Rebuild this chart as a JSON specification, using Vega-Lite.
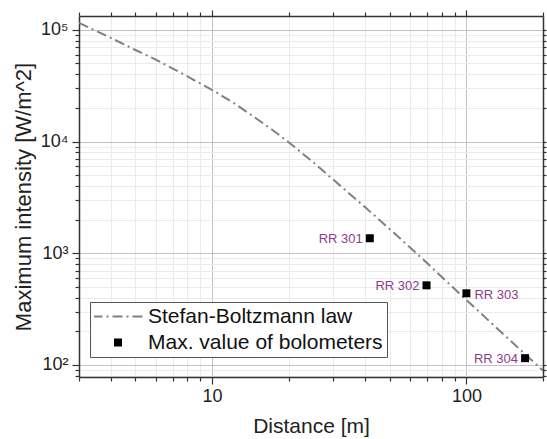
{
  "$schema": "https://vega.github.io/schema/vega-lite/v6.json",
  "width": 464,
  "height": 361,
  "autosize": {"type": "none"},
  "padding": {"left": 79, "top": 16, "right": 4, "bottom": 62},
  "background": "white",
  "config": {"font": "Liberation Sans", "view": {"stroke": null}},
  "datasets": {
    "law": [
      {"d": 3, "I": 115500},
      {"d": 4, "I": 84700},
      {"d": 5, "I": 66000},
      {"d": 5.93, "I": 55000},
      {"d": 7.5, "I": 41500},
      {"d": 10, "I": 29000},
      {"d": 12, "I": 22600},
      {"d": 14, "I": 17800},
      {"d": 17, "I": 13050},
      {"d": 20, "I": 9870},
      {"d": 25, "I": 6530},
      {"d": 30.5, "I": 4400},
      {"d": 40, "I": 2580},
      {"d": 53.3, "I": 1440},
      {"d": 69.7, "I": 825},
      {"d": 100, "I": 381},
      {"d": 140, "I": 188},
      {"d": 200, "I": 89}
    ],
    "bolo": [
      {"name": "RR 301", "d": 41.7, "I": 1362, "side": "left"},
      {"name": "RR 302", "d": 69.7, "I": 516, "side": "left"},
      {"name": "RR 303", "d": 100, "I": 438, "side": "right"},
      {"name": "RR 304", "d": 170, "I": 115, "side": "left"}
    ]
  },
  "resolve": {"axis": {"x": "independent", "y": "independent"}},
  "layer": [
    {
      "data": {"name": "law"},
      "mark": {"type": "line", "strokeWidth": 2, "strokeDash": [10, 4, 2, 4], "clip": true},
      "encoding": {
        "x": {
          "field": "d", "type": "quantitative",
          "scale": {"type": "log", "domain": [3, 200], "nice": false},
          "axis": {
            "orient": "bottom",
            "values": [3, 4, 5, 6, 7, 8, 9, 10, 20, 30, 40, 50, 60, 70, 80, 90, 100, 200],
            "labelExpr": "datum.value == 10 ? '10' : datum.value == 100 ? '100' : ''",
            "labelFontSize": 18, "labelColor": "#222", "labelPadding": 3,
            "labelOverlap": false, "labelFlush": false,
            "tickSize": {"condition": {"test": "datum.value == 10 || datum.value == 100", "value": 7}, "value": 4},
            "tickColor": "#333", "tickWidth": 1.2,
            "grid": true,
            "gridColor": {"condition": {"test": "datum.value == 10 || datum.value == 100", "value": "#c2c2c2"}, "value": "#ebebeb"},
            "gridWidth": 1,
            "domainColor": "#333", "domainWidth": 1.5,
            "title": "Distance [m]", "titleFontSize": 21, "titleFontWeight": "normal", "titleColor": "#222", "titlePadding": 10
          }
        },
        "y": {
          "field": "I", "type": "quantitative",
          "scale": {"type": "log", "domain": [78, 133000], "nice": false},
          "axis": {
            "orient": "left",
            "values": [80, 90, 100, 200, 300, 400, 500, 600, 700, 800, 900, 1000, 2000, 3000, 4000, 5000, 6000, 7000, 8000, 9000, 10000, 20000, 30000, 40000, 50000, 60000, 70000, 80000, 90000, 100000],
            "labelExpr": "datum.value == 100 ? '10²' : datum.value == 1000 ? '10³' : datum.value == 10000 ? '10⁴' : datum.value == 100000 ? '10⁵' : ''",
            "labelFontSize": 18, "labelColor": "#222", "labelPadding": 4,
            "labelOverlap": false, "labelFlush": false,
            "tickSize": {"condition": {"test": "datum.value == 100 || datum.value == 1000 || datum.value == 10000 || datum.value == 100000", "value": 7}, "value": 4},
            "tickColor": "#333", "tickWidth": 1.2,
            "grid": true,
            "gridColor": {"condition": {"test": "datum.value == 100 || datum.value == 1000 || datum.value == 10000 || datum.value == 100000", "value": "#c2c2c2"}, "value": "#ebebeb"},
            "gridWidth": 1,
            "domainColor": "#333", "domainWidth": 1.5,
            "title": "Maximum intensity [W/m^2]", "titleFontSize": 22, "titleFontWeight": "normal", "titleColor": "#222", "titlePadding": 5
          }
        },
        "color": {
          "datum": "Stefan-Boltzmann law",
          "type": "nominal",
          "scale": {"domain": ["Stefan-Boltzmann law", "Max. value of bolometers"], "range": ["#808080", "#000000"]},
          "legend": {
            "title": null,
            "orient": "none",
            "legendX": 11,
            "legendY": 286,
            "strokeColor": "#555",
            "fillColor": "white",
            "padding": 4,
            "cornerRadius": 0,
            "labelFontSize": 21,
            "labelColor": "#111",
            "labelLimit": 0,
            "labelOffset": 3,
            "symbolType": "stroke",
            "symbolSize": 2600,
            "symbolStrokeWidth": 2,
            "clipHeight": 21,
            "rowPadding": 4,
            "encode": {
              "symbols": {
                "update": {
                  "x": {"value": 24},
                  "shape": {"signal": "datum.value === 'Stefan-Boltzmann law' ? 'stroke' : 'square'"},
                  "size": {"signal": "datum.value === 'Stefan-Boltzmann law' ? 2600 : 64"},
                  "strokeDash": {"signal": "datum.value === 'Stefan-Boltzmann law' ? [10, 4, 2, 4] : [1, 0]"},
                  "fill": {"signal": "datum.value === 'Stefan-Boltzmann law' ? 'transparent' : '#000000'"},
                  "stroke": {"signal": "datum.value === 'Stefan-Boltzmann law' ? '#808080' : '#000000'"},
                  "strokeWidth": {"signal": "datum.value === 'Stefan-Boltzmann law' ? 2 : 0"},
                  "opacity": {"value": 1}
                }
              },
              "labels": {
                "update": {
                  "x": {"value": 54}
                }
              }
            }
          }
        }
      }
    },
    {
      "data": {"name": "bolo"},
      "mark": {"type": "point", "shape": "square", "filled": true, "size": 64, "opacity": 1},
      "encoding": {
        "x": {
          "field": "d", "type": "quantitative",
          "axis": {
            "orient": "top",
            "values": [3, 4, 5, 6, 7, 8, 9, 10, 20, 30, 40, 50, 60, 70, 80, 90, 100, 200],
            "labels": false, "grid": false, "title": null,
            "tickSize": {"condition": {"test": "datum.value == 10 || datum.value == 100", "value": 6}, "value": 4},
            "tickColor": "#333", "tickWidth": 1.2,
            "domainColor": "#333", "domainWidth": 1.5
          }
        },
        "y": {
          "field": "I", "type": "quantitative",
          "axis": {
            "orient": "right",
            "values": [80, 90, 100, 200, 300, 400, 500, 600, 700, 800, 900, 1000, 2000, 3000, 4000, 5000, 6000, 7000, 8000, 9000, 10000, 20000, 30000, 40000, 50000, 60000, 70000, 80000, 90000, 100000],
            "labels": false, "grid": false, "title": null,
            "tickSize": 3,
            "tickColor": "#333", "tickWidth": 1.2,
            "domainColor": "#333", "domainWidth": 1.5
          }
        },
        "color": {"datum": "Max. value of bolometers", "type": "nominal"}
      }
    },
    {
      "data": {"name": "bolo"},
      "transform": [{"filter": "datum.side == 'left'"}],
      "mark": {"type": "text", "align": "right", "baseline": "middle", "dx": -7, "dy": 1, "fontSize": 13, "color": "#8e3b8e"},
      "encoding": {
        "x": {"field": "d", "type": "quantitative", "axis": null},
        "y": {"field": "I", "type": "quantitative", "axis": null},
        "text": {"field": "name"}
      }
    },
    {
      "data": {"name": "bolo"},
      "transform": [{"filter": "datum.side == 'right'"}],
      "mark": {"type": "text", "align": "left", "baseline": "middle", "dx": 8, "dy": 2, "fontSize": 13, "color": "#8e3b8e"},
      "encoding": {
        "x": {"field": "d", "type": "quantitative", "axis": null},
        "y": {"field": "I", "type": "quantitative", "axis": null},
        "text": {"field": "name"}
      }
    }
  ]
}
